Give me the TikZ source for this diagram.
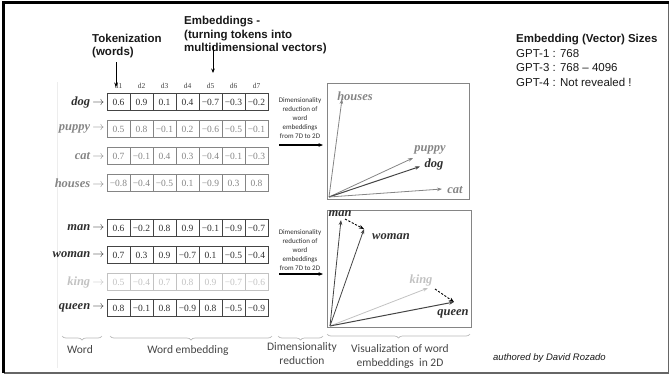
\documentclass[tikz,border=0pt]{standalone}
\usepackage{fontspec}
\setmainfont{Liberation Serif}
\setsansfont{Liberation Sans}
\newfontfamily\carlito{Carlito}
\usetikzlibrary{arrows.meta,decorations.pathreplacing}
\definecolor{dk}{HTML}{2E2E2E}
\definecolor{dkb}{HTML}{444444}
\definecolor{md}{HTML}{858585}
\definecolor{lt}{HTML}{C2C2C2}
\definecolor{brc}{HTML}{B8B8B8}
\definecolor{capt}{HTML}{454545}
\newcommand\embrow[5]{%
  \node[wordlbl, text=#3] (#1-w) at (104.5,#2) {#1\,$\rightarrow$};
  \foreach \v [count=\i] in {#5} {\node[cell, draw=#4, text=#3] (#1-\i) at (95.5+23*\i,#2) {\v};}
}
\begin{document}
\begin{tikzpicture}[x=1pt,y=-1pt,
  wordlbl/.style={font=\fontsize{12.5}{13}\selectfont\bfseries\itshape, anchor=east, inner sep=0pt},
  cell/.style={minimum width=23pt, minimum height=17pt, inner sep=0pt, line width=0.7pt, font=\fontsize{9.5}{10}\selectfont},
  hdr/.style={font=\fontsize{7.5}{8}\selectfont, text=dkb, inner sep=0pt},
  dimtxt/.style={font=\carlito\fontsize{7}{9}\selectfont, align=center, text=dk, inner sep=0pt},
  topt/.style={font=\sffamily\bfseries\fontsize{11.5}{13.5}\selectfont, align=left, anchor=west, inner sep=0pt, text=black!90},
  rtxt/.style={font=\sffamily\fontsize{11.5}{14}\selectfont, anchor=west, inner sep=0pt, text=black!90},
  capt/.style={font=\carlito\fontsize{11.5}{14}\selectfont, align=center, text=capt, inner sep=0pt},
  plbl/.style={font=\fontsize{12.5}{13}\selectfont\bfseries\itshape, inner sep=0pt},
  panel/.style={draw=md, line width=0.8pt, inner sep=0pt},
  vec/.style={-{Stealth[length=5pt,width=3.6pt]}, line width=0.8pt},
  dvec/.style={-{Stealth[length=5pt,width=3.8pt]}, line width=0.9pt, dash pattern=on 2.2pt off 1.6pt, draw=black},
  blk/.style={-{Stealth[length=4.5pt,width=3.6pt]}, line width=0.8pt, draw=black},
  brace/.style={decorate, decoration={brace, amplitude=4pt, mirror}, draw=brc, line width=0.7pt}
]
\useasboundingbox (0,0) rectangle (670,376);
% frame
\draw[draw=black!60, line width=1.2pt] (668.5,2.5) -- (668.5,373) -- (3.5,373);
\draw[black, line width=2.2pt] (3.5,373) -- (3.5,2.5) -- (668.8,2.5);
\draw[draw=black!7, line width=0.6pt] (57,82) -- (57,368);

% top annotations
\node[topt] (tok) at (92,46) {Tokenization\\(words)};
\node[topt] (emb) at (184,35.5) {Embeddings -\\(turning tokens into\\multidimensional vectors)};
\coordinate (tokA) at (116,62);
\coordinate (embA) at (213,46);

% headers
\foreach \i in {1,...,7} {\node[hdr] (d\i) at (95.5+23*\i,86) {d\i};}
\draw[blk] (tokA) -- (116,87);
\draw[blk] (embA) -- (213,73);

% rows
\embrow{dog}{102}{dk}{dkb}{0.6,0.9,0.1,0.4,−0.7,−0.3,−0.2}
\embrow{puppy}{129}{md}{md}{0.5,0.8,−0.1,0.2,−0.6,−0.5,−0.1}
\embrow{cat}{156}{md}{md}{0.7,−0.1,0.4,0.3,−0.4,−0.1,−0.3}
\embrow{houses}{183}{md}{md}{−0.8,−0.4,−0.5,0.1,−0.9,0.3,0.8}
\embrow{man}{228}{dk}{dkb}{0.6,−0.2,0.8,0.9,−0.1,−0.9,−0.7}
\embrow{woman}{255}{dk}{dkb}{0.7,0.3,0.9,−0.7,0.1,−0.5,−0.4}
\embrow{king}{282}{lt}{lt}{0.5,−0.4,0.7,0.8,0.9,−0.7,−0.6}
\embrow{queen}{308}{dk}{dkb}{0.8,−0.1,0.8,−0.9,0.8,−0.5,−0.9}

% dimensionality reduction
\node[dimtxt] (dr1) at (300,118) {Dimensionality\\reduction of\\word\\embeddings\\from 7D to 2D};
\node[dimtxt] (dr2) at (300,250) {Dimensionality\\reduction of\\word\\embeddings\\from 7D to 2D};
\coordinate (a1s) at (279,145); \coordinate (a1e) at (323,145);
\coordinate (a2s) at (279,274); \coordinate (a2e) at (323,274);
\draw[blk, line width=1.1pt] (a1s) -- (a1e);
\draw[blk, line width=1.1pt] (a2s) -- (a2e);

% panels
\node[panel, minimum width=142pt, minimum height=116pt] (p1) at (398,141) {};
\node[panel, minimum width=144pt, minimum height=117pt] (p2) at (399,268.5) {};

\coordinate (o1) at (329,197);
\coordinate (hT) at (342,99);
\coordinate (pT) at (413,158);
\coordinate (dT) at (420,166.5);
\coordinate (cT) at (442,189);
\draw[vec, draw=md] (o1) -- (hT);
\draw[vec, draw=md] (o1) -- (pT);
\draw[vec, draw=dkb, line width=1pt] (o1) -- (dT);
\draw[vec, draw=md] (o1) -- (cT);
\node[plbl, text=md] (lh) at (355,96) {houses};
\node[plbl, text=md] (lp) at (430,150) {puppy};
\node[plbl, text=dk] (ld) at (434,164) {dog};
\node[plbl, text=md] (lc) at (455,190) {cat};

\coordinate (o2) at (330,326);
\coordinate (mT) at (341,220);
\coordinate (wT) at (364,229);
\coordinate (kT) at (428,288);
\coordinate (qT) at (454,302);
\draw[vec, draw=dkb] (o2) -- (mT);
\draw[vec, draw=dkb] (o2) -- (wT);
\draw[vec, draw=lt] (o2) -- (kT);
\draw[vec, draw=dkb, line width=1pt] (o2) -- (qT);
\coordinate (mD) at (345,219);
\coordinate (kD) at (435,289);
\draw[dvec] (mD) -- (wT);
\draw[dvec] (kD) -- (qT);
\node[plbl, text=dk] (lm) at (340,213.5) {man};
\node[plbl, text=dk] (lw) at (391,237) {woman};
\node[plbl, text=lt] (lk) at (421,280) {king};
\node[plbl, text=dk] (lq) at (453,314) {queen};

% braces
\draw[brace] (62,336) -- (102,336);
\draw[brace] (110,336) -- (272,336);
\draw[brace] (278,336) -- (323,336);
\draw[brace] (327,334) -- (470,334);
\node[capt] (c1) at (80,350) {Word};
\node[capt] (c2) at (188,350) {Word embedding};
\node[capt] (c3) at (302,354) {Dimensionality\\reduction};
\node[capt] (c4) at (400,356) {Visualization of word\\embeddings~ in 2D};

% right text
\node[rtxt, font=\sffamily\bfseries\fontsize{11.5}{14}\selectfont] (es) at (516,40) {Embedding (Vector) Sizes};
\node[rtxt] (g1) at (516,54) {GPT-1 : 768};
\node[rtxt] (g3) at (516,68) {GPT-3 : 768 – 4096};
\node[rtxt] (g4) at (516,82) {GPT-4 : Not revealed !};
\node[rtxt, font=\sffamily\itshape\fontsize{9.5}{11}\selectfont] (auth) at (493,358) {authored by David Rozado};
\end{tikzpicture}
\end{document}
